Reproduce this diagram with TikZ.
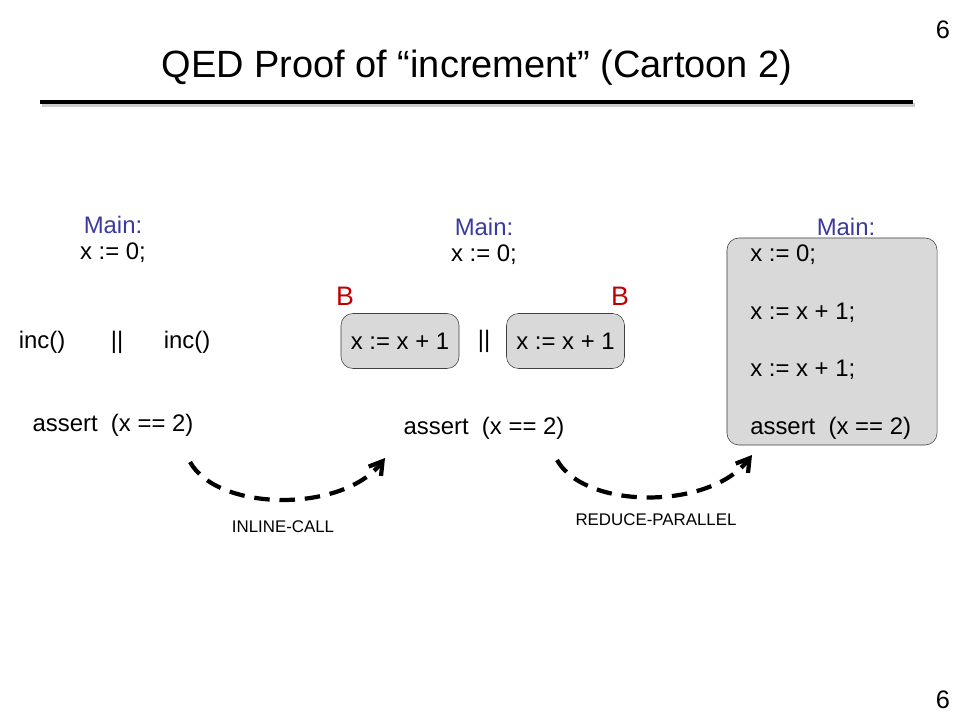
\documentclass[tikz,border=0pt]{standalone}
\usepackage{fontspec}
\setmainfont{Liberation Sans}
\usetikzlibrary{arrows.meta}
\definecolor{mainblue}{RGB}{58,58,158}
\definecolor{bred}{RGB}{192,0,0}
\definecolor{boxgray}{RGB}{217,217,217}
\definecolor{boxline}{RGB}{64,64,64}

\begin{document}
\begin{tikzpicture}[x=0.025cm, y=-0.025cm,
  code/.style = {inner sep=0pt, font=\fontsize{17}{20}\selectfont},
  mainlbl/.style = {code, text=mainblue},
  blbl/.style = {inner sep=0pt, text=bred, font=\fontsize{19}{22}\selectfont},
  stmtbox/.style = {code, draw=boxline, fill=boxgray, rounded corners=0.3cm, minimum width=2.95cm, minimum height=1.375cm},
  rulelbl/.style = {inner sep=0pt, font=\fontsize{12}{14}\selectfont},
  steparrow/.style = {line width=3pt, dash pattern=on 11pt off 7pt, -{Straight Barb[length=9pt, width=11pt, line width=3pt]}}]
\useasboundingbox (0,0) rectangle (960,720);
% slide frame
\node[inner sep=0pt, font=\fontsize{18}{20}\selectfont] (pgtop) at (943,30) {6};
\node[inner sep=0pt, font=\fontsize{18}{20}\selectfont] (pgbot) at (943,700) {6};
\node[inner sep=0pt, font=\fontsize{27}{30}\selectfont] (title) at (477,68) {QED Proof of “increment” (Cartoon 2)};
\draw[line width=3pt, gray!40] (42,105) -- (915,105);
\draw[line width=2.8pt] (40,102) -- (913,102);
% left: before inlining
\node[mainlbl] (mainA) at (113,225) {Main:};
\node[code] (initA) at (113,253) {x := 0;};
\node[code] (incAL) at (42,342) {inc()};
\node[code] (parA) at (117,342) {||};
\node[code] (incAR) at (187,342) {inc()};
\node[code] (assertA) at (113,425) {assert~~(x == 2)};
% middle: inlined atomic blocks
\node[mainlbl] (mainB) at (484,227) {Main:};
\node[code] (initB) at (484,255) {x := 0;};
\node[stmtbox] (incBL) at (400,341) {x := x + 1};
\node[code] (parB) at (484,341) {||};
\node[stmtbox] (incBR) at (565.5,341) {x := x + 1};
\node[blbl] (bL) at (345,296) {B};
\node[blbl] (bR) at (620,296) {B};
\node[code] (assertB) at (484,428) {assert~~(x == 2)};
% right: sequential block
\node[mainlbl] (mainC) at (846,227) {Main:};
\node[stmtbox, minimum width=5.25cm, minimum height=5.175cm] (boxC) at (832,341.5) {};
\node[code, anchor=west] (initC) at (750,255) {x := 0;};
\node[code, anchor=west] (incC1) at (750,313) {x := x + 1;};
\node[code, anchor=west] (incC2) at (750,370) {x := x + 1;};
\node[code, anchor=west] (assertC) at (750,428) {assert~~(x == 2)};
% rewriting steps
\coordinate (stepAs) at (190,462);
\coordinate (stepAe) at (385,458);
\coordinate (stepBs) at (557,460);
\coordinate (stepBe) at (752,455);
\draw[steparrow] (stepAs) .. controls +(28,50) and +(-42,55) .. (stepAe);
\draw[steparrow] (stepBs) .. controls +(28,50) and +(-42,55) .. (stepBe);
\node[rulelbl] (ruleA) at (283,527) {INLINE-CALL};
\node[rulelbl] (ruleB) at (656,520) {REDUCE-PARALLEL};
\end{tikzpicture}
\end{document}
